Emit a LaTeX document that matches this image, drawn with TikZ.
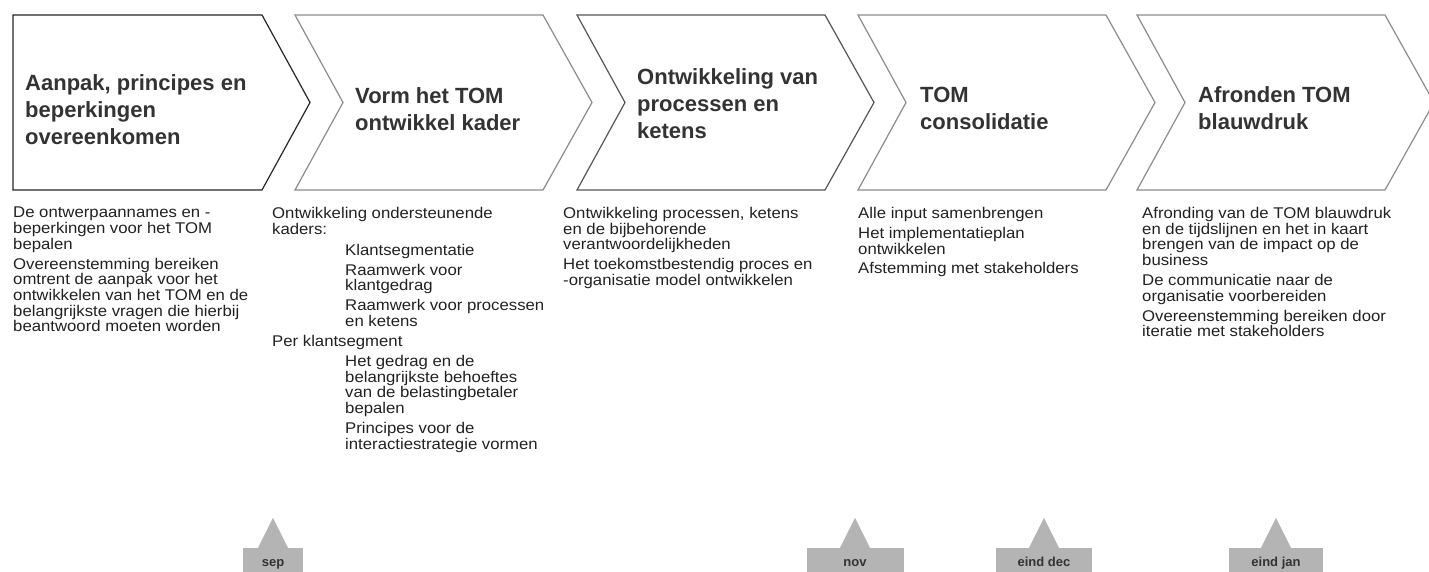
\documentclass[tikz,border=0pt]{standalone}
\usepackage{fontspec}
\setmainfont{Liberation Sans}
\newfontfamily\notefont{Liberation Sans}[FakeStretch=1.08]
\usetikzlibrary{positioning}
\definecolor{titlegrey}{HTML}{333333}
\definecolor{inkgrey}{HTML}{222222}
\definecolor{edgegrey}{HTML}{8C8C8C}
\definecolor{edgedark}{HTML}{555555}
\definecolor{markgrey}{HTML}{B4B4B4}
\tikzset{
	phase/.style={
		draw=edgegrey,
		line width=1.2pt,
		fill=white,
		line join=miter
	},
	phasetitle/.style={
		anchor=north west,
		inner sep=0pt,
		align=left,
		text=titlegrey,
		font=\fontsize{22}{27}\selectfont\bfseries
	},
	notes/.style={
		anchor=north west,
		inner sep=0pt,
		align=left,
		text=inkgrey,
		font=\notefont\fontsize{15.5}{15.7}\selectfont
	},
	milestone/.style={
		rectangle,
		fill=markgrey,
		inner sep=0pt,
		minimum height=30pt,
		text height=10pt,
		text depth=2.5pt,
		text=titlegrey,
		font=\fontsize{13}{13}\selectfont\bfseries
	}
}
\lineskiplimit=-100pt
\begin{document}
\begin{tikzpicture}[x=1pt,y=-1pt]
		\path[use as bounding box,fill=white] (0,0) rectangle (1429,572);
		\draw[phase,draw=black!85] (13,15) -- (262,15) -- (310,102.5) -- (262,190) -- (13,190) -- cycle;
		\draw[phase] (295,15) -- (543,15) -- (592,102.5) -- (543,190) -- (295,190) -- (343,102.5) -- cycle;
		\draw[phase,draw=edgedark] (577,15) -- (825,15) -- (874,102.5) -- (825,190) -- (577,190) -- (625,102.5) -- cycle;
		\draw[phase] (858,15) -- (1106,15) -- (1155,102.5) -- (1106,190) -- (858,190) -- (906,102.5) -- cycle;
		\draw[phase] (1137,15) -- (1385,15) -- (1434,102.5) -- (1385,190) -- (1137,190) -- (1185,102.5) -- cycle;
		\node [phasetitle] (aanpak) at (25,74) {Aanpak, principes en\\beperkingen\\overeenkomen};
		\node [phasetitle] (vorm) at (355,87) {Vorm het TOM\\ontwikkel kader};
		\node [phasetitle] (ontw) at (637,68) {Ontwikkeling van\\processen en\\ketens};
		\node [phasetitle] (consol) at (920,87) {TOM\\consolidatie};
		\node [phasetitle] (afrond) at (1198,86) {Afronden TOM\\blauwdruk};
		\node [notes] (nota) at (13,207) {De ontwerpaannames en -\\beperkingen voor het TOM\\bepalen\\[4.2pt]Overeenstemming bereiken\\omtrent de aanpak voor het\\ontwikkelen van het TOM en de\\belangrijkste vragen die hierbij\\beantwoord moeten worden};
		\node [notes] (notb) at (272,207) {Ontwikkeling ondersteunende\\kaders:\\[5.5pt]\hspace*{73pt}Klantsegmentatie\\[4.2pt]\hspace*{73pt}Raamwerk voor\\\hspace*{73pt}klantgedrag\\[4.2pt]\hspace*{73pt}Raamwerk voor processen\\\hspace*{73pt}en ketens\\[4.2pt]Per klantsegment\\[4.2pt]\hspace*{73pt}Het gedrag en de\\\hspace*{73pt}belangrijkste behoeftes\\\hspace*{73pt}van de belastingbetaler\\\hspace*{73pt}bepalen\\[4.2pt]\hspace*{73pt}Principes voor de\\\hspace*{73pt}interactiestrategie vormen};
		\node [notes] (notc) at (563,207) {Ontwikkeling processen, ketens\\en de bijbehorende\\verantwoordelijkheden\\[4.2pt]Het toekomstbestendig proces en\\-organisatie model ontwikkelen};
		\node [notes] (notd) at (858,207) {Alle input samenbrengen\\[4.2pt]Het implementatieplan\\ontwikkelen\\[4.2pt]Afstemming met stakeholders};
		\node [notes] (note) at (1142,207) {Afronding van de TOM blauwdruk\\en de tijdslijnen en het in kaart\\brengen van de impact op de\\business\\[4.2pt]De communicatie naar de\\organisatie voorbereiden\\[4.2pt]Overeenstemming bereiken door\\iteratie met stakeholders};
		\node [milestone,minimum width=60pt] (msep) at (273,563) {sep};
		\node [milestone,minimum width=97pt] (mnov) at (855,563) {nov};
		\node [milestone,minimum width=96pt] (mdec) at (1044,563) {eind dec};
		\node [milestone,minimum width=94pt] (mjan) at (1276,563) {eind jan};
		\fill[markgrey] ([xshift=-15pt]msep.north) -- ([yshift=30pt]msep.north) -- ([xshift=15pt]msep.north) -- cycle;
		\fill[markgrey] ([xshift=-15pt]mnov.north) -- ([yshift=30pt]mnov.north) -- ([xshift=15pt]mnov.north) -- cycle;
		\fill[markgrey] ([xshift=-15pt]mdec.north) -- ([yshift=30pt]mdec.north) -- ([xshift=15pt]mdec.north) -- cycle;
		\fill[markgrey] ([xshift=-15pt]mjan.north) -- ([yshift=30pt]mjan.north) -- ([xshift=15pt]mjan.north) -- cycle;
\end{tikzpicture}
\end{document}
